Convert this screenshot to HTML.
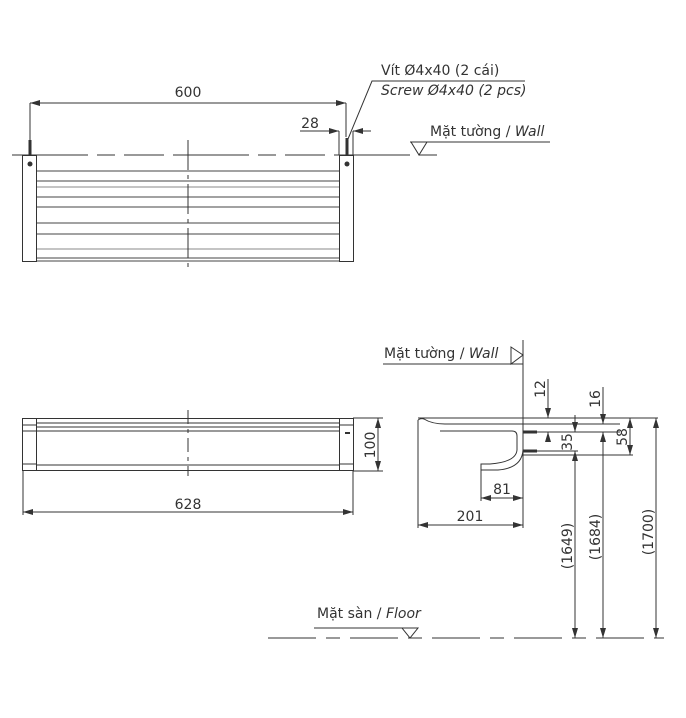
<!DOCTYPE html>
<html><head><meta charset="utf-8"><style>
html,body{margin:0;padding:0;background:#fff}
svg{display:block}
text{font-family:"DejaVu Sans","Liberation Sans",sans-serif;font-size:14px;fill:#333}
.it{font-style:italic}
</style></head><body>
<svg width="686" height="718" viewBox="0 0 686 718" xmlns="http://www.w3.org/2000/svg">
<defs>
<marker id="a" viewBox="0 0 10 6" refX="10" refY="3" markerWidth="10" markerHeight="6" markerUnits="userSpaceOnUse" orient="auto-start-reverse"><path d="M0,0 L10,3 L0,6z" fill="#333"/></marker>
</defs>
<g stroke="#333" stroke-width="1" fill="none">
<line x1="30" y1="103" x2="346" y2="103" marker-start="url(#a)" marker-end="url(#a)"/>
<line x1="30" y1="103" x2="30" y2="140"/>
<line x1="346" y1="103" x2="346" y2="137"/>
<line x1="30" y1="140" x2="30" y2="155" stroke-width="3"/>
<line x1="347" y1="138" x2="347" y2="156" stroke-width="3"/>
<line x1="12" y1="155" x2="438" y2="155" stroke-dasharray="76,9,18,9,40,9"/>
<rect x="22.5" y="155.5" width="14" height="106"/>
<rect x="339.5" y="155.5" width="14" height="106"/>
<circle cx="30" cy="164" r="2.5" fill="#333" stroke="none"/>
<circle cx="347" cy="164" r="2.5" fill="#333" stroke="none"/>
<g stroke="#444">
<line x1="37" y1="171" x2="339" y2="171"/><line x1="37" y1="181" x2="339" y2="181"/>
<line x1="37" y1="187" x2="339" y2="187" stroke="#888"/><line x1="37" y1="197" x2="339" y2="197"/>
<line x1="37" y1="207" x2="339" y2="207"/><line x1="37" y1="223" x2="339" y2="223"/>
<line x1="37" y1="234" x2="339" y2="234"/><line x1="37" y1="249" x2="339" y2="249" stroke="#888"/>
<line x1="37" y1="258" x2="339" y2="258"/><line x1="37" y1="261" x2="339" y2="261"/>
</g>
<line x1="188" y1="140" x2="188" y2="272" stroke-dasharray="30,5,4,5"/>
<line x1="300" y1="131" x2="339" y2="131" marker-end="url(#a)"/>
<line x1="371" y1="131" x2="353" y2="131" marker-end="url(#a)"/>
<line x1="339" y1="131" x2="339" y2="155"/>
<line x1="353" y1="131" x2="353" y2="155"/>
<polyline points="348,139 372,81 525,81"/>
<line x1="410" y1="142" x2="550" y2="142"/>
<path d="M411,142 L427,142 L419,155z"/>
<rect x="22.5" y="418.5" width="14" height="52"/>
<rect x="339.5" y="418.5" width="14" height="52"/>
<line x1="22" y1="425" x2="37" y2="425"/><line x1="22" y1="431" x2="37" y2="431"/><line x1="22" y1="464" x2="37" y2="464"/>
<line x1="339" y1="425" x2="353" y2="425"/><line x1="339" y1="464" x2="353" y2="464"/>
<line x1="37" y1="418.5" x2="339" y2="418.5"/><line x1="37" y1="423" x2="339" y2="423"/>
<line x1="37" y1="427" x2="339" y2="427"/><line x1="37" y1="431" x2="339" y2="431"/>
<line x1="37" y1="465" x2="339" y2="465"/><line x1="37" y1="470.5" x2="339" y2="470.5"/>
<line x1="345" y1="433" x2="350" y2="433" stroke-width="2"/>
<line x1="188" y1="410" x2="188" y2="476" stroke-dasharray="14,5,4,5"/>
<line x1="353" y1="418" x2="383" y2="418"/><line x1="353" y1="471" x2="383" y2="471"/>
<line x1="378" y1="418" x2="378" y2="471" marker-start="url(#a)" marker-end="url(#a)"/>
<line x1="23" y1="471" x2="23" y2="515"/><line x1="353" y1="471" x2="353" y2="515"/>
<line x1="23" y1="512" x2="353" y2="512" marker-start="url(#a)" marker-end="url(#a)"/>
<line x1="383" y1="364" x2="523" y2="364"/>
<path d="M511,347 L511,364 L523,355z"/>
<line x1="523" y1="340" x2="523" y2="400"/>
<line x1="523" y1="400" x2="523" y2="480"/>
<path d="M418,418 L523,418"/>
<path d="M418,420 Q421,418 424,419 Q432,424 445,424 L523,424"/>
<path d="M440,431 L512,431 Q517,431 517,436 L517,450 Q516,462 490,464 L481,464 L481,470 L498,470 Q522,468 523,450"/>
<line x1="418" y1="420" x2="418" y2="528"/>
<line x1="418" y1="525" x2="523" y2="525" marker-start="url(#a)" marker-end="url(#a)"/>
<line x1="523" y1="470" x2="523" y2="528"/>
<line x1="481" y1="470" x2="481" y2="501"/>
<line x1="481" y1="498" x2="523" y2="498" marker-start="url(#a)" marker-end="url(#a)"/>
<line x1="523" y1="432" x2="537" y2="432" stroke-width="3"/>
<line x1="523" y1="451" x2="537" y2="451" stroke-width="3"/>
<line x1="523" y1="418" x2="658" y2="418"/>
<line x1="523" y1="424" x2="620" y2="424"/>
<line x1="537" y1="432" x2="620" y2="432"/>
<line x1="537" y1="451" x2="578" y2="451"/>
<line x1="523" y1="455" x2="633" y2="455"/>
<line x1="548" y1="379" x2="548" y2="418" marker-end="url(#a)"/>
<line x1="548" y1="440" x2="548" y2="432" marker-end="url(#a)"/>
<line x1="575" y1="415" x2="575" y2="432" marker-end="url(#a)"/>
<line x1="575" y1="451" x2="575" y2="638" marker-start="url(#a)" marker-end="url(#a)"/>
<line x1="603" y1="387" x2="603" y2="424" marker-end="url(#a)"/>
<line x1="603" y1="432" x2="603" y2="638" marker-start="url(#a)" marker-end="url(#a)"/>
<line x1="630" y1="418" x2="630" y2="455" marker-start="url(#a)" marker-end="url(#a)"/>
<line x1="656" y1="418" x2="656" y2="638" marker-start="url(#a)" marker-end="url(#a)"/>
<line x1="268" y1="638" x2="664" y2="638" stroke-dasharray="48,10,14,10"/>
<line x1="314" y1="628" x2="418" y2="628"/>
<path d="M402,628 L418,628 L410,638z"/>
</g>
<text x="188" y="97" text-anchor="middle">600</text>
<text x="310" y="128" text-anchor="middle">28</text>
<text x="381" y="75">Vít Ø4x40 (2 cái)</text>
<text x="381" y="95" class="it">Screw Ø4x40 (2 pcs)</text>
<text x="430" y="136">Mặt tường / <tspan class="it">Wall</tspan></text>
<text x="384" y="358">Mặt tường / <tspan class="it">Wall</tspan></text>
<text x="188" y="509" text-anchor="middle">628</text>
<text transform="translate(375,445) rotate(-90)" text-anchor="middle">100</text>
<text x="502" y="494" text-anchor="middle">81</text>
<text x="470" y="521" text-anchor="middle">201</text>
<text transform="translate(545,389) rotate(-90)" text-anchor="middle">12</text>
<text transform="translate(572,442) rotate(-90)" text-anchor="middle">35</text>
<text transform="translate(600,399) rotate(-90)" text-anchor="middle">16</text>
<text transform="translate(627,437) rotate(-90)" text-anchor="middle">58</text>
<text transform="translate(572,546) rotate(-90)" text-anchor="middle">(1649)</text>
<text transform="translate(600,537) rotate(-90)" text-anchor="middle">(1684)</text>
<text transform="translate(653,532) rotate(-90)" text-anchor="middle">(1700)</text>
<text x="317" y="618">Mặt sàn / <tspan class="it">Floor</tspan></text>
</svg>
</body></html>
